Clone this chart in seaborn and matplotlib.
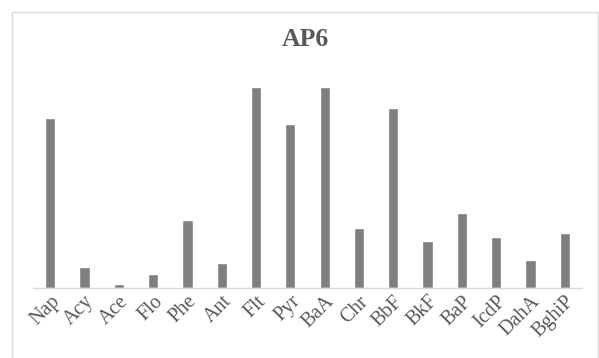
import matplotlib
matplotlib.use("Agg")
import matplotlib.pyplot as plt
import seaborn as sns
import pandas as pd
from matplotlib.patches import Rectangle

# PAH names on the x axis
categories = ['Nap', 'Acy', 'Ace', 'Flo', 'Phe', 'Ant', 'Flt', 'Pyr',
              'BaA', 'Chr', 'BbF', 'BkF', 'BaP', 'IcdP', 'DahA', 'BghiP']
# bar heights (no y axis shown, relative units)
values = [170, 21, 4, 14, 68, 25, 201, 164,
          201.5, 60.5, 180, 47, 75, 51, 28, 55]

df = pd.DataFrame({'pah': categories, 'val': values})

sns.set_style('white')
plt.rcParams['font.family'] = ['Liberation Serif', 'DejaVu Serif']

fig = plt.figure(figsize=(5.99, 3.58), dpi=100)
ax = fig.add_axes([0.0551, 0.1955, 0.9165, 0.6145])

sns.barplot(data=df, x='pah', y='val', color='#7f7f7f', saturation=1,
            width=0.3, ax=ax)

ax.set_ylim(0, 220)
ax.set_xlim(-0.5, len(categories) - 0.5)
ax.set_yticks([])
ax.set_xlabel('')
ax.set_ylabel('')
for s in ['top', 'right', 'left']:
    ax.spines[s].set_visible(False)
ax.spines['bottom'].set_color('#d9d9d9')
ax.spines['bottom'].set_linewidth(1)
ax.tick_params(axis='x', length=0, pad=3)
ax.set_xticks(range(len(categories)))
ax.set_xticklabels(categories, rotation=45, ha='right', rotation_mode='anchor',
                   fontsize=14.5, color='#595959')

fig.text(0.509, 0.89, 'AP6', ha='center', va='center', fontsize=18.5,
         fontweight='bold', color='#595959')

# chart area frame
fig.patches.append(Rectangle((11.5 / 599, -0.1), 586 / 599, 1.1 - 11.5 / 358,
                             transform=fig.transFigure, fill=False,
                             edgecolor='#d9d9d9', linewidth=1))

fig.savefig('out.png', dpi=100)
